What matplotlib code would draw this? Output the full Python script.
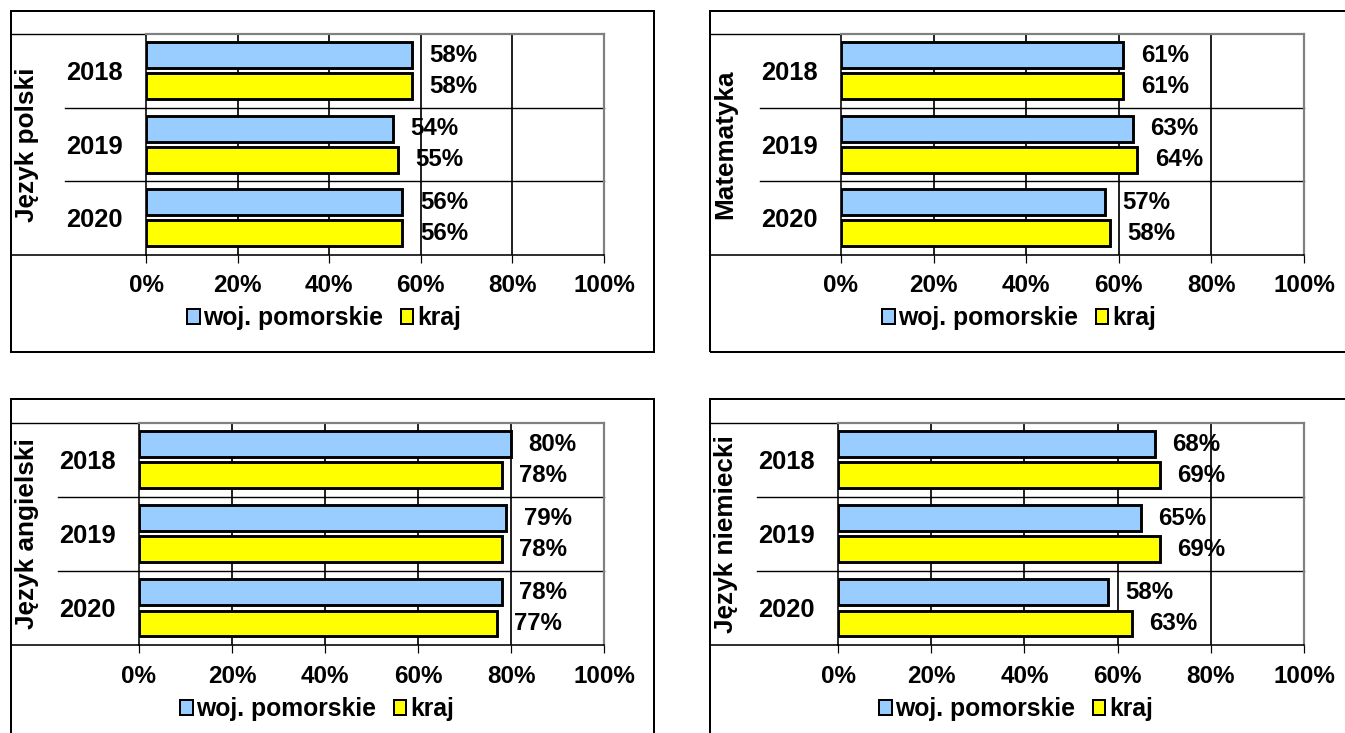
import matplotlib
matplotlib.use("Agg")
import matplotlib.pyplot as plt
from matplotlib.patches import Patch, Rectangle
from matplotlib.lines import Line2D
from matplotlib.transforms import blended_transform_factory
import numpy as np

plt.rcParams['font.family'] = ['Liberation Sans', 'DejaVu Sans']
plt.rcParams['font.weight'] = 'bold'

years = ["2018", "2019", "2020"]
series_names = ["woj. pomorskie", "kraj"]
subjects = ["Język polski", "Matematyka", "Język angielski", "Język niemiecki"]
polski_woj = [58, 54, 56]
polski_kraj = [58, 55, 56]
mat_woj = [61, 63, 57]
mat_kraj = [61, 64, 58]
ang_woj = [80, 79, 78]
ang_kraj = [78, 78, 77]
niem_woj = [68, 65, 58]
niem_kraj = [69, 69, 63]
xticks = [0, 20, 40, 60, 80, 100]
xtick_labels = ["0%", "20%", "40%", "60%", "80%", "100%"]

data = [(polski_woj, polski_kraj), (mat_woj, mat_kraj),
        (ang_woj, ang_kraj), (niem_woj, niem_kraj)]

W, H = 1345, 733
fig = plt.figure(figsize=(W / 100, H / 100), dpi=100)

# layout in pixels: frame (l, t, r, b), plot (l, t, r, b)
frames = [(10.7, 11.3, 654, 352), (709.7, 11.3, 1352, 352),
          (10.7, 399.3, 654, 742), (709.7, 399.3, 1352, 742)]
plots = [(146, 34, 604, 254.5), (841, 34, 1304, 254.5),
         (139, 422.5, 604, 645), (838, 422.5, 1304, 645)]

BLUE = "#99CCFF"
YELLOW = "#FFFF00"
GRAY = "#808080"
px = 0.72  # points per pixel

for i in range(4):
    fl, ft, fr, fb = frames[i]
    fig.add_artist(Rectangle((fl / W, 1 - fb / H), (fr - fl) / W, (fb - ft) / H,
                             transform=fig.transFigure, fill=False,
                             edgecolor="black", linewidth=2 * px, zorder=0))
    pl, pt, pr, pb = plots[i]
    ax = fig.add_axes([pl / W, 1 - pb / H, (pr - pl) / W, (pb - pt) / H])
    woj, kraj = data[i]
    y = np.arange(len(years))
    h = 0.35
    off = 0.21
    ax.barh(y - off, woj, height=h, color=BLUE, edgecolor="black",
            linewidth=2.9 * px, zorder=3)
    ax.barh(y + off, kraj, height=h, color=YELLOW, edgecolor="black",
            linewidth=2.9 * px, zorder=3)
    for yy, v in zip(y - off, woj):
        ax.annotate(f"{v}%", (v, yy), xytext=(12.5, 0), textcoords="offset points",
                    ha="left", va="center", fontsize=17.3, fontweight="bold",
                    zorder=4)
    for yy, v in zip(y + off, kraj):
        ax.annotate(f"{v}%", (v, yy), xytext=(12.5, 0), textcoords="offset points",
                    ha="left", va="center", fontsize=17.3, fontweight="bold",
                    zorder=4)
    ax.set_xlim(0, 100)
    ax.set_ylim(2.5, -0.5)
    for g in xticks[1:-1]:
        ax.axvline(g, color="black", linewidth=1.7 * px, zorder=1)
    trans = blended_transform_factory(ax.transAxes, ax.transData)
    x_mid = -81 / (pr - pl)
    x_out = (fl - pl) / (pr - pl)
    for s in [0.5, 1.5]:
        ax.add_line(Line2D([x_mid, 1], [s, s], transform=trans, color="black",
                           linewidth=1.4 * px, clip_on=False, zorder=1))
    ax.add_line(Line2D([x_out, 0], [-0.5, -0.5], transform=trans, color="black",
                       linewidth=1.4 * px, clip_on=False, zorder=1))
    ax.add_line(Line2D([x_out, 0], [2.5, 2.5], transform=trans, color="black",
                       linewidth=1.6 * px, clip_on=False, zorder=1))
    ax.set_xticks(xticks)
    ax.set_xticklabels(xtick_labels, fontsize=17.5, fontweight="bold")
    ax.set_yticks(y)
    ax.set_yticklabels(years, fontsize=18.4, fontweight="bold")
    ax.tick_params(axis="y", length=0, pad=23 * px)
    ax.tick_params(axis="x", direction="out", length=8 * px, width=1.2 * px,
                   color="black", pad=12 * px)
    for side in ["top", "right"]:
        ax.spines[side].set_color(GRAY)
        ax.spines[side].set_linewidth(2.2 * px)
    ax.spines["left"].set_color("black")
    ax.spines["left"].set_linewidth(1.6 * px)
    ax.spines["bottom"].set_color("black")
    ax.spines["bottom"].set_linewidth(1.6 * px)
    ax.set_facecolor("white")
    fig.text((fl + 16) / W, 1 - ((pt + pb) / 2) / H, subjects[i], rotation=90,
             ha="center", va="center", fontsize=18.8, fontweight="bold")
    handles = [Patch(facecolor=BLUE, edgecolor="black", linewidth=2 * px,
                     label=series_names[0]),
               Patch(facecolor=YELLOW, edgecolor="black", linewidth=2 * px,
                     label=series_names[1])]
    fig.legend(handles=handles, loc="center",
               bbox_to_anchor=((pl + 178) / W, 1 - (pb + 64) / H),
               ncol=2, frameon=False, handlelength=0.5, handleheight=0.55,
               handletextpad=0.15, columnspacing=0.7, borderpad=0,
               prop={"size": 17.8, "weight": "bold"})

fig.savefig("out.png", dpi=100, facecolor="white")
